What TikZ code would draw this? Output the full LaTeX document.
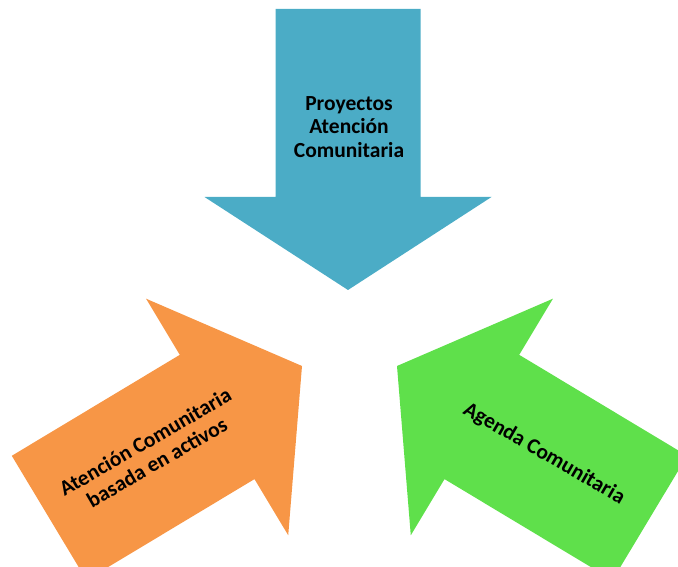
\documentclass[tikz,border=0pt]{standalone}
\usepackage{fontspec}
\setmainfont{Carlito}
\usepackage{tikz}
\usetikzlibrary{calc}
\definecolor{topblue}{HTML}{4BACC6}
\definecolor{leftorange}{HTML}{F79646}
\definecolor{rightgreen}{HTML}{5FE04B}
% colour, tip, direction, head length, total length, half width of head
\def\blockarrow[#1](#2)(#3:#4:#5:#6){\fill[#1, shift={(#2)}, rotate=#3] (0,0) -- (-#4,#6) -- (-#4,72.5) -- (-#5,72.5) -- (-#5,-72.5) -- (-#4,-72.5) -- (-#4,-#6) -- cycle;}
\tikzset{arrowtext/.style={align=center, font=\fontsize{21.5}{23.5}\selectfont\bfseries, text=black}}

\begin{document}
\begin{tikzpicture}[x=1pt, y=1pt]
	%%%%% START %%%%%
	
	\useasboundingbox (0, 0) rectangle (678, 567);
	\clip (0, 0) rectangle (678, 567);
	
	\blockarrow[topblue](348, 277)(-90:93:281:143.5);
	\blockarrow[leftorange](302, 201)(31:99:295:138);
	\blockarrow[rightgreen](397, 201)(149:99:295:138);
	
	\node[arrowtext] (proyectos) at (349, 440) {Proyectos\\Atención\\Comunitaria};
	\node[arrowtext, rotate=30] (activos) at (151, 115) {Atención Comunitaria\\basada en activos};
	\node[arrowtext, rotate=-30] (agenda) at (544, 113) {Agenda Comunitaria};
	
	%%%%% END %%%%%
\end{tikzpicture}
\end{document}
